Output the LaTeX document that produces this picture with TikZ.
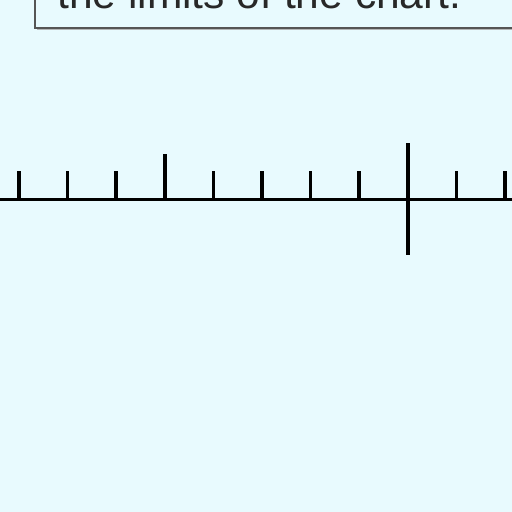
\documentclass[tikz,border=0pt]{standalone}
\usepackage{fontspec}
\setmainfont{Liberation Sans}
\usetikzlibrary{shadows}
\definecolor{bgcyan}{RGB}{232,250,254}
\definecolor{boxgray}{RGB}{85,85,85}
\definecolor{textgray}{RGB}{40,40,40}
\begin{document}
\begin{tikzpicture}[x=0.02cm,y=-0.02cm,line cap=butt]
\useasboundingbox[fill=bgcyan] (0,0) rectangle (512,512);
\begin{scope}
\clip (0,0) rectangle (512,512);
\draw[boxgray,thick,fill=bgcyan,drop shadow={shadow xshift=1.2pt,shadow yshift=-1.2pt,fill=gray!70,opacity=0.8}]
  (35,-60) rectangle (540,28);
\node[anchor=base west,inner sep=0pt,text=textgray,font=\fontsize{24.2pt}{28pt}\selectfont] (note) at (57,8) {the limits of the chart.};
\end{scope}

\draw[line width=1.7pt] (0,199) -- (512,199);
\foreach \k in {0,1,2,4,5,6,7,9,10}
  \draw[line width=2pt] (19+48.6*\k,199) -- (19+48.6*\k,171);
\draw[line width=2pt] (19+48.6*3,199) -- (19+48.6*3,154);
\draw[line width=2.4pt] (19+48.6*8,143) -- (19+48.6*8,255);
\end{tikzpicture}
\end{document}
